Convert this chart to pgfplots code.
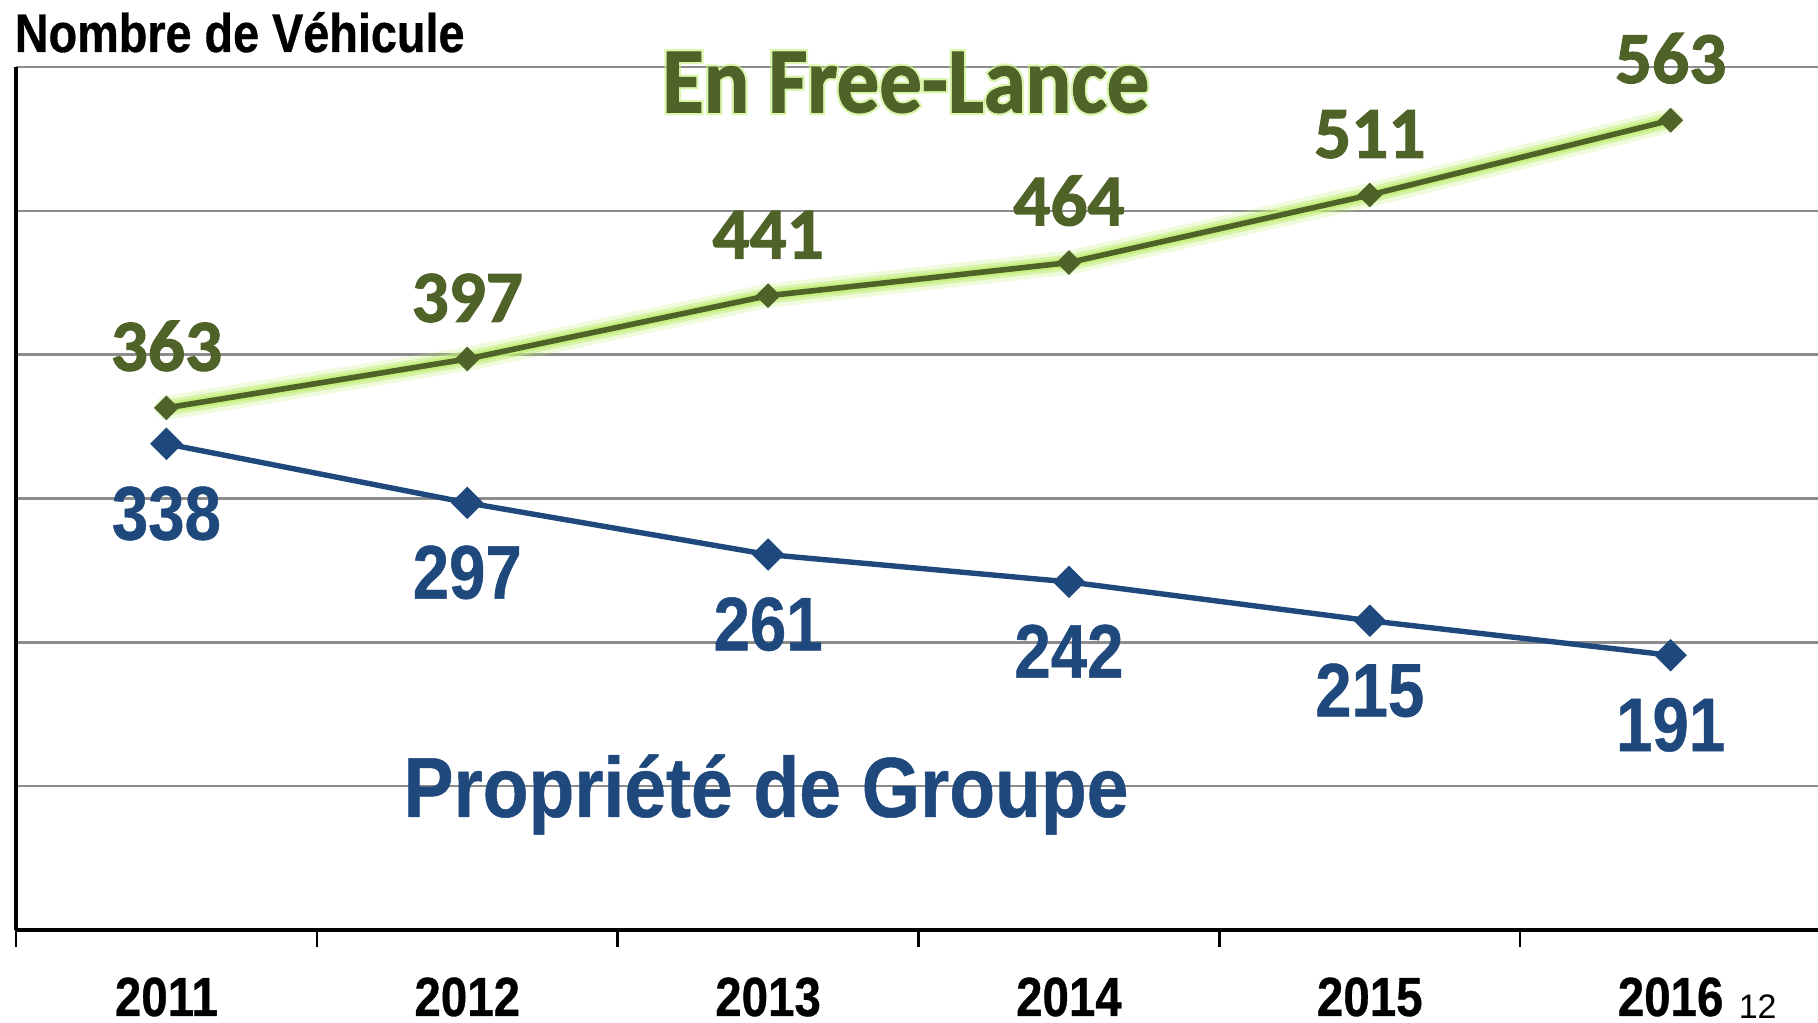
\documentclass[border=0pt]{standalone}
\usepackage{fontspec}
\setmainfont{Liberation Sans}
\newfontfamily\nar[FakeStretch=0.86, BoldFeatures={FakeBold=0.6}]{Liberation Sans}
\newfontfamily\narr[FakeStretch=0.88, BoldFeatures={FakeBold=0.6}]{Liberation Sans}
\newfontfamily\carl[BoldFeatures={FakeBold=1.6}]{Carlito}
\newfontfamily\carlc[FakeStretch=0.91, BoldFeatures={FakeBold=1.2}]{Carlito}
\newfontfamily\carlglow[FakeStretch=0.91, BoldFeatures={FakeBold=6}]{Carlito}
\usepackage{pgfplots}
\pgfplotsset{compat=1.18}
\definecolor{freegreen}{HTML}{4F6228}
\definecolor{grpblue}{HTML}{1F497D}
\definecolor{glowgreen}{HTML}{C2EE78}
\definecolor{gridgray}{HTML}{8C8C8C}

\pgfplotstableread{
x v
0 363
1 397
2 441
3 464
4 511
5 563
}\freelance
\pgfplotstableread{
x v
0 338
1 297
2 261
3 242
4 215
5 191
}\groupe

\begin{document}
\begin{tikzpicture}
\path[use as bounding box] (0,0) rectangle (454.5pt,255.75pt);
\begin{axis}[
  at={(4pt,23.25pt)}, anchor=south west,
  width=450.5pt, height=215.75pt, scale only axis,
  xmin=-0.5, xmax=5.49, ymin=0, ymax=600,
  axis lines=left,
  axis line style={black, line width=0.8pt, -},
  % tick marks between the years
  xtick={-0.5,0.5,1.5,2.5,3.5,4.5},
  xticklabels={},
  x tick style={black, line width=0.6pt},
  tick align=outside, major tick length=4.2pt,
  % year labels
  extra x ticks={0,1,2,3,4,5},
  extra x tick labels={2011,2012,2013,2014,2015,2016},
  extra x tick style={major tick length=0pt,
    xticklabel style={font=\nar\bfseries\fontsize{13.8}{15}\selectfont, anchor=base, yshift=-21.5pt}},
  ytick={100,200,...,600},
  yticklabels={},
  y tick style={draw=none},
  ymajorgrids,
  major grid style={gridgray, line width=0.6pt},
  clip=false,
  /pgf/number format/assume math mode=true,
]
% glow under the green line
\addplot[glowgreen, line width=6pt, opacity=0.25, line join=round, line cap=round, forget plot] table[x=x,y=v] {\freelance};
\addplot[glowgreen, line width=4pt, opacity=0.5, line join=round, line cap=round, forget plot] table[x=x,y=v] {\freelance};
\addplot[glowgreen, line width=2.6pt, opacity=0.8, line join=round, line cap=round, forget plot] table[x=x,y=v] {\freelance};
\addplot[freegreen, line width=1.4pt, mark=square*, mark size=1.5pt, mark options={rotate=45},
  nodes near coords,
  every node near coord/.append style={font=\carl\bfseries\fontsize{18.3}{20}\selectfont, text=freegreen, anchor=base, yshift=9.3pt}]
  table[x=x,y=v] {\freelance};
\addplot[grpblue, line width=1.35pt, mark=square*, mark size=2.2pt, mark options={rotate=45},
  nodes near coords,
  every node near coord/.append style={font=\nar\bfseries\fontsize{19}{20}\selectfont, text=grpblue, anchor=north, inner sep=0pt, yshift=-10pt}]
  table[x=x,y=v] {\groupe};
\coordinate (fl) at (axis cs:2.458,568.5);
\node[anchor=base, text=grpblue, font=\narr\bfseries\fontsize{21.3}{24}\selectfont] at (axis cs:1.993,78.6) {Propriété de Groupe};
\end{axis}
% soft glow behind the series title
\node[anchor=base, text=glowgreen, opacity=0.6, font=\carlglow\bfseries\fontsize{23.3}{26}\selectfont] at (fl) {En Free-Lance};
\node[anchor=base, text=freegreen, font=\carlc\bfseries\fontsize{23.3}{26}\selectfont] at (fl) {En Free-Lance};
\node[anchor=base west, inner sep=0pt, font=\nar\bfseries\fontsize{13.6}{15}\selectfont] at (3.5pt,242.75pt) {Nombre de Véhicule};
\node[anchor=base west, inner sep=0pt, font=\fontsize{8.5}{9}\selectfont] at (434.5pt,1.2pt) {12};
\end{tikzpicture}
\end{document}
